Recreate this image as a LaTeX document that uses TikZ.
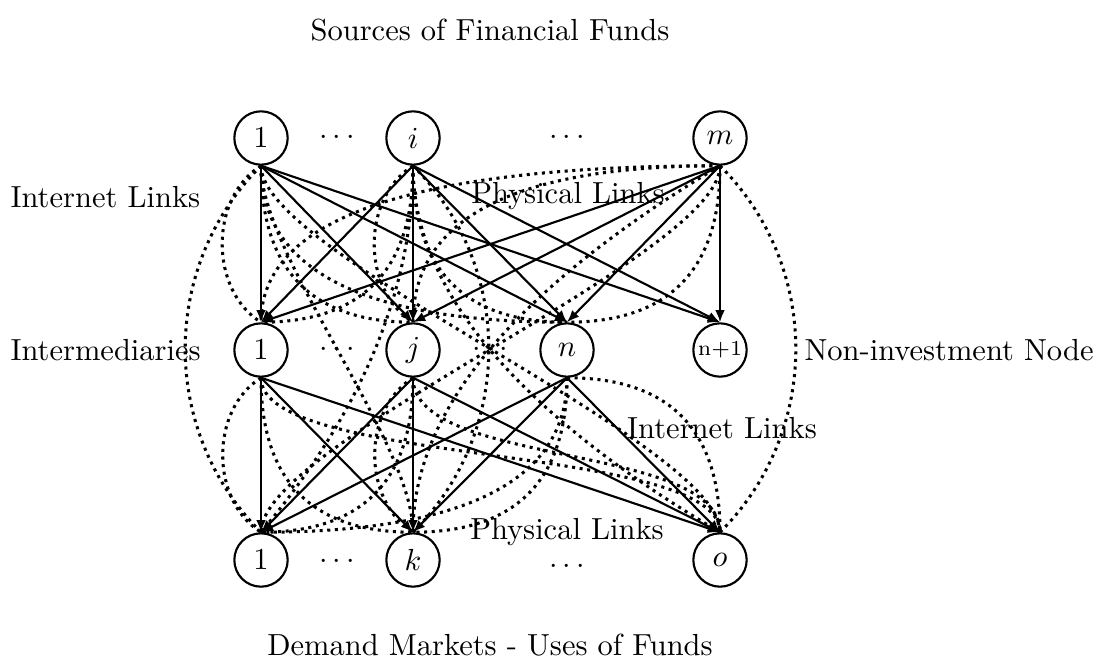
\documentclass[tikz,border=0pt]{standalone}
\usetikzlibrary{arrows.meta,calc}
\newcommand\qlink[3]{\draw[net] (#1) .. controls ($(#1)!0.667!(#3)$) and ($(#2)!0.667!(#3)$) .. (#2);}
\newcommand\slink[2]{\draw[net] (#1) .. controls ($(#1)+(0,90)$) and ($(#2)+(0,-90)$) .. (#2);}
\begin{document}
\begin{tikzpicture}[x=0.328pt,y=-0.328pt,
  nd/.style={circle,draw,line width=0.7pt,minimum size=17.5pt,inner sep=0pt},
  phys/.style={line width=0.7pt,-{Latex[length=4pt,width=3.2pt]}},
  net/.style={line width=1pt,dash pattern=on 1pt off 1.5pt},
  lbl/.style={inner sep=0pt}]
\useasboundingbox (0,0) rectangle (1101,670);
% nodes
\node[nd] (t1) at (261,138) {$1$};
\node[nd] (ti) at (413,138) {$i$};
\node[nd] (tm) at (720,138) {$m$};
\node[nd] (m1) at (261,350) {$1$};
\node[nd] (mj) at (413,350) {$j$};
\node[nd] (mn) at (567,350) {$n$};
\node[nd,font=\scriptsize] (mx) at (720,350) {n+1};
\node[nd] (b1) at (261,560) {$1$};
\node[nd] (bk) at (413,560) {$k$};
\node[nd] (bo) at (720,560) {$o$};
\node[lbl] (d1) at (337,138) {$\cdots$};
\node[lbl] (d2) at (567,138) {$\cdots$};
\node[lbl] (d3) at (337,350) {$\cdots$};
\node[lbl] (d4) at (490,350) {$\cdots$};
\node[lbl] (d5) at (337,562) {$\cdots$};
\node[lbl] (d6) at (567,567) {$\cdots$};
% labels
\node[lbl] (src) at (490,30) {Sources of Financial Funds};
\node[lbl] (dem) at (490,645) {Demand Markets - Uses of Funds};
\node[lbl,anchor=west] (il1) at (10,197) {Internet Links};
\node[lbl,anchor=west] (int) at (10,350) {Intermediaries};
\node[lbl,anchor=west] (non) at (804,350) {Non-investment Node};
\node[lbl] (pl1) at (568,196) {Physical Links};
\node[lbl] (il2) at (722,428) {Internet Links};
\node[lbl] (pl2) at (567,532) {Physical Links};
% internet links: sources -> intermediaries
\draw[net] (t1.south) to[bend right=58] (m1.north);
\qlink{t1.south}{mj.north}{t1.south |- mj.north}
\qlink{t1.south}{mn.north}{t1.south |- mn.north}
\qlink{ti.south}{m1.north}{ti.south |- m1.north}
\draw[net] (ti.south) to[bend right=58] (mj.north);
\qlink{ti.south}{mn.north}{ti.south |- mn.north}
\qlink{tm.south}{m1.north}{m1.north |- tm.south}
\qlink{tm.south}{mj.north}{mj.north |- tm.south}
\qlink{tm.south}{mn.north}{tm.south |- mn.north}
% internet links: sources -> demand markets
\draw[net] (t1.south) to[bend right=45] (b1.north);
\slink{t1.south}{bk.north}
\slink{t1.south}{bo.north}
\qlink{ti.south}{b1.north}{ti.south |- mj.center}
\draw[net] (ti.south) to[bend left=45] (bk.north);
\qlink{ti.south}{bo.north}{ti.south |- mj.center}
\slink{tm.south}{b1.north}
\qlink{tm.south}{bk.north}{bk.north |- mj.center}
\draw[net] (tm.south) to[bend left=45] (bo.north);
% internet links: intermediaries -> demand markets
\draw[net] (m1.south) to[bend right=58] (b1.north);
\qlink{m1.south}{bk.north}{m1.south |- bk.north}
\slink{m1.south}{bo.north}
\qlink{mj.south}{b1.north}{mj.south |- b1.north}
\draw[net] (mj.south) to[bend right=58] (bk.north);
\slink{mj.south}{bo.north}
\qlink{mn.south}{b1.north}{mn.south |- b1.north}
\qlink{mn.south}{bk.north}{mn.south |- bk.north}
\qlink{mn.south}{bo.north}{bo.north |- mn.south}
% physical links
\foreach \s in {t1,ti,tm}
  \foreach \t in {m1,mj,mn,mx}
    \draw[phys] (\s.south) -- (\t.north);
\foreach \s in {m1,mj,mn}
  \foreach \t in {b1,bk,bo}
    \draw[phys] (\s.south) -- (\t.north);
\end{tikzpicture}
\end{document}
